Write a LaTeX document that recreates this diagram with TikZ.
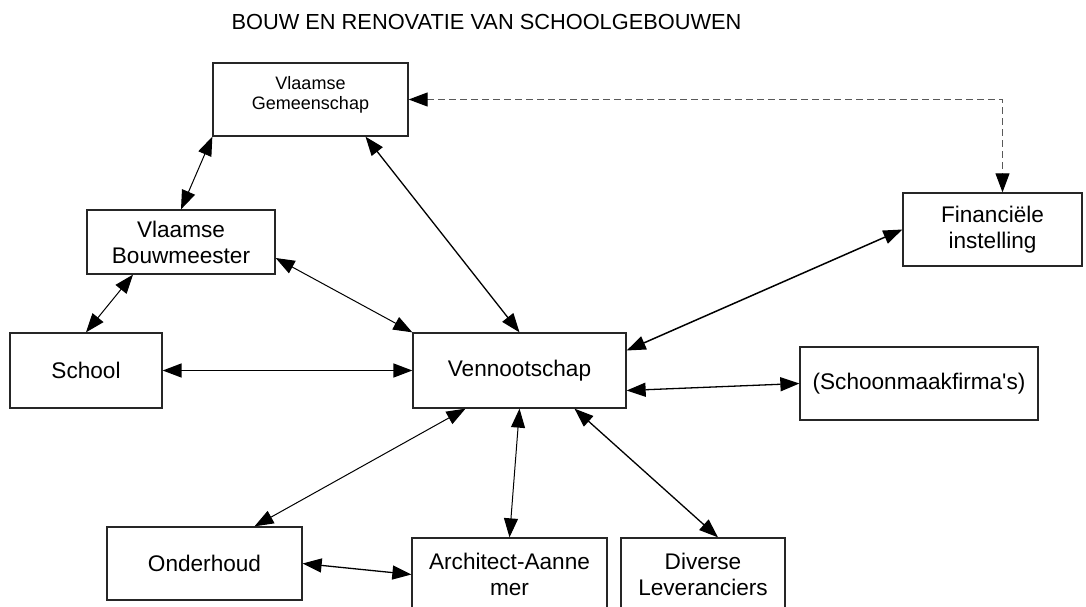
\documentclass[tikz,border=0pt]{standalone}
\usepackage{fontspec}
\setmainfont{Liberation Sans}
\usetikzlibrary{arrows.meta}
\tikzset{box/.style={ % Sets the properties for each party
            draw=black!85,
            line width=1.3pt,
            rectangle,
            align=center,
            inner sep=0pt,
            font=\fontsize{22.6}{26}\selectfont},
        smallbox/.style={ % Smaller text, for the top box
            box,
            font=\fontsize{18}{20}\selectfont},
        every edge/.style={ % Sets the properties for each relation
            draw,
            <->,>={Triangle[length=19pt,width=14pt]}, % Filled heads at both ends
            line width=1pt}
        }

\begin{document}
\begin{tikzpicture}[x=1pt, y=-1pt]
    \useasboundingbox (0,0) rectangle (1086,607);

    \node[font=\fontsize{21.8}{25}\selectfont] (titel) at (486.5,22) {BOUW EN RENOVATIE VAN SCHOOLGEBOUWEN};

    \node[smallbox, minimum width=195pt, minimum height=73pt] (gem) at (310.5,99.5) {Vlaamse\\Gemeenschap\\[-6pt]\mbox{}};
    \node[box, minimum width=188pt, minimum height=64pt] (bouw) at (181,242) {Vlaamse\\Bouwmeester};
    \node[box, minimum width=152pt, minimum height=75pt] (school) at (86,370.5) {School};
    \node[box, minimum width=213pt, minimum height=75pt] (venn) at (519.5,370.5) {Vennootschap};
    \node[box, minimum width=179pt, minimum height=73pt] (fin) at (992.5,229.5) {Financiële\\instelling};
    \node[box, minimum width=238pt, minimum height=73pt] (schoon) at (919,383.5) {(Schoonmaakfirma\textquotesingle s)};
    \node[box, minimum width=195pt, minimum height=73pt] (onder) at (204.5,563.5) {Onderhoud};
    \node[box, minimum width=195pt, minimum height=73pt] (arch) at (509.5,574.5) {Architect-Aanne\\mer};
    \node[box, minimum width=164pt, minimum height=73pt] (lev) at (703,574.5) {Diverse\\Leveranciers};

    \draw
        (gem.south west) edge (bouw.north)
        ([xshift=55pt]gem.south) edge [line width=1.3pt] (venn.north)
        ([yshift=-16pt]bouw.east) edge (venn.north west)
        ([xshift=-48pt]bouw.south) edge (school.north)
        (school.east) edge [line width=1.5pt] (venn.west)
        (fin.west) edge [line width=1.5pt] ([yshift=20pt]venn.east)
        ([yshift=-20pt]venn.east) edge [line width=1.3pt] (schoon.west)
        ([xshift=-54pt]venn.south) edge ([xshift=50pt]onder.north)
        (venn.south) edge (arch.north)
        ([xshift=55pt]venn.south) edge [line width=1.3pt] ([xshift=15pt]lev.north)
        (onder.east) edge [line width=1.3pt] (arch.west);

    % dashed link between the community and the bank
    \draw[dash pattern=on 7pt off 4pt, <->, >={Triangle[length=19pt,width=14pt,color=black]}, line width=1pt, black!65]
        (gem.east) -| ([xshift=10pt]fin.north);
\end{tikzpicture}
\end{document}
